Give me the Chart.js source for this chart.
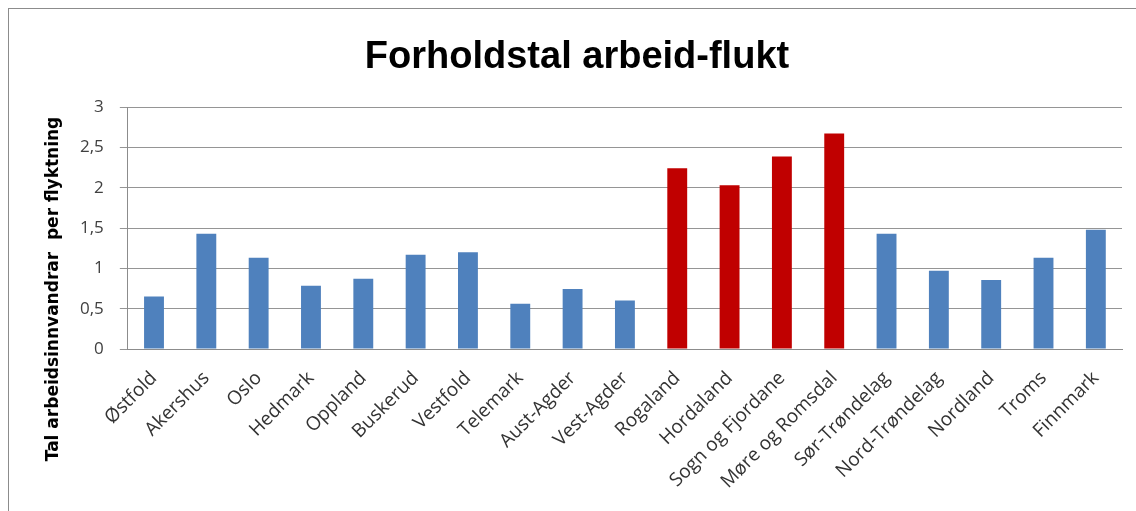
<!DOCTYPE html>
<html>
<head>
<meta charset="utf-8">
<script src="https://cdn.jsdelivr.net/npm/chart.js@4"></script>
<style>
html,body{margin:0;padding:0;background:#fff;}
#wrap{position:relative;width:1136px;height:511px;overflow:hidden;}
#frame{position:absolute;left:8px;top:8px;width:1140px;height:520px;border:1px solid #8c8c8c;box-sizing:border-box;}
canvas{position:absolute;left:0;top:0;}
</style>
</head>
<body>
<div id="wrap"><div id="frame"></div><canvas id="c" width="1136" height="511"></canvas></div>
<script>
const categories = ["Østfold","Akershus","Oslo","Hedmark","Oppland","Buskerud","Vestfold","Telemark","Aust-Agder","Vest-Agder","Rogaland","Hordaland","Sogn og Fjordane","Møre og Romsdal","Sør-Trøndelag","Nord-Trøndelag","Nordland","Troms","Finnmark"];
const values = [0.65,1.43,1.13,0.785,0.87,1.17,1.20,0.56,0.745,0.60,2.24,2.03,2.385,2.67,1.43,0.97,0.857,1.13,1.48];
const highlighted = ["Rogaland","Hordaland","Sogn og Fjordane","Møre og Romsdal"];
const tickLabels = ["0","0,5","1","1,5","2","2,5","3"];
const titleText = "Forholdstal arbeid-flukt";
const yTitle = "Tal arbeidsinnvandrar  per flyktning";

const blue = "#4F81BD", red = "#C00000";
const colors = categories.map(c => highlighted.includes(c) ? red : blue);

// chart title and y-axis title, positioned as in the reference
const textPlugin = {
  id: 'texts',
  afterDraw(chart) {
    const ctx = chart.ctx;
    ctx.save();
    ctx.font = 'bold 38px "Liberation Sans", sans-serif';
    ctx.fillStyle = '#000';
    ctx.textAlign = 'center';
    ctx.textBaseline = 'alphabetic';
    ctx.fillText(titleText, 577, 68);
    ctx.translate(54, 289);
    ctx.rotate(-Math.PI / 2);
    ctx.font = 'bold 17px "DejaVu Sans", sans-serif';
    ctx.textBaseline = 'middle';
    ctx.fillText(yTitle, 0, 0);
    ctx.restore();
  }
};

new Chart(document.getElementById('c'), {
  type: 'bar',
  data: { labels: categories, datasets: [{ data: values, backgroundColor: colors, barPercentage: 0.76, categoryPercentage: 0.5 }] },
  plugins: [textPlugin],
  options: {
    responsive: false, animation: false,
    layout: { padding: { left: 64, right: 14, top: 107, bottom: 0 } },
    plugins: { legend: { display: false }, tooltip: { enabled: false }, title: { display: false } },
    scales: {
      x: {
        grid: { display: false, drawTicks: false },
        border: { color: '#8c8c8c' },
        ticks: { color: '#333', font: { family: 'Open Sans, sans-serif', size: 19 }, maxRotation: 45, minRotation: 45, autoSkip: false, padding: 18 },
        afterFit: (s) => { s.paddingLeft = 0; s.paddingRight = 0; }
      },
      y: {
        min: 0, max: 3,
        grid: { color: '#959595', tickLength: 8, drawTicks: true },
        border: { color: '#8c8c8c' },
        ticks: { stepSize: 0.5, color: '#404040', font: { family: 'Open Sans, sans-serif', size: 17 }, padding: 16,
          callback: (v, i) => tickLabels[i] },
        afterFit: (s) => { s.paddingTop = 0; s.paddingBottom = 0; }
      }
    }
  }
});
</script>
</body>
</html>
